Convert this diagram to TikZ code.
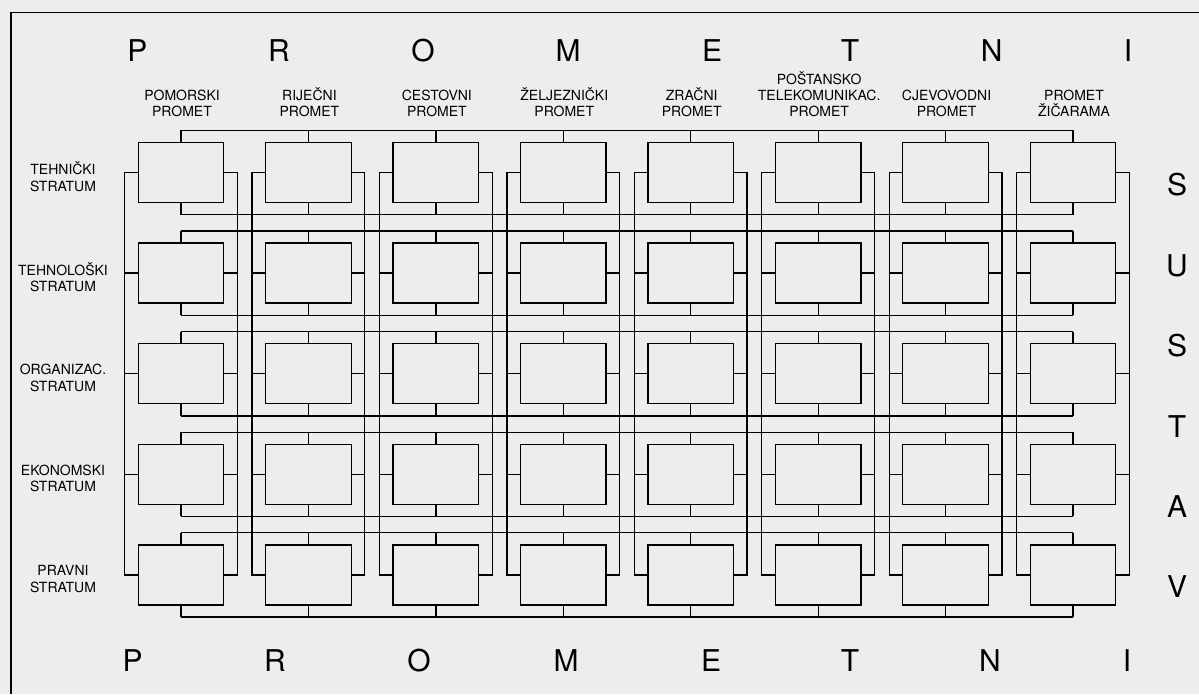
\documentclass[tikz,border=0pt]{standalone}
\usepackage{fontspec}
\setmainfont{TeX Gyre Heros}
\begin{document}
\begin{tikzpicture}[x=1pt,y=-1pt,line width=1.3pt,
    stratbox/.style={draw,minimum width=85.5pt,minimum height=60pt,inner sep=0pt},
    hdr/.style={font=\fontsize{14}{16}\selectfont,align=center,anchor=south,inner sep=0pt},
    lbl/.style={font=\fontsize{14}{16.5}\selectfont,align=center,inner sep=0pt},
    big/.style={font=\fontsize{30}{36}\selectfont,inner sep=0pt}]
    \fill[black!7] (0,0) rectangle (1199,694);
    \useasboundingbox (0,0) rectangle (1199,694);
    % frame
    \draw (11,694) -- (11,12.5) -- (1199,12.5);
    % big letters
    \foreach \ch/\xt/\xb [count=\i] in {P/137.5/132.7,R/279/275,O/423/419,M/568/566,E/712/711,T/850/850,N/991.7/990,I/1128/1127} {
        \node[big] (top-\i) at (\xt,51) {\ch};
        \node[big] (bot-\i) at (\xb,661) {\ch};
    }
    \foreach \ch [count=\i] in {S,U,S,T,A,V}
        \node[big] (side-\i) at (1177,{185+80.4*(\i-1)}) {\ch};
    % boxes
    \foreach \c in {1,...,8}
        \foreach \r in {1,...,5}
            \node[stratbox] (b-\r-\c) at ({181+127.43*(\c-1)},{172.5+100.6*(\r-1)}) {};
    % column headers
    \foreach \txt [count=\c] in {{POMORSKI\\PROMET},{RIJEČNI\\PROMET},{CESTOVNI\\PROMET},{ŽELJEZNIČKI\\PROMET},{ZRAČNI\\PROMET},{POŠTANSKO\\TELEKOMUNIKAC.\\PROMET},{CJEVOVODNI\\PROMET},{PROMET\\ŽIČARAMA}}
        \node[hdr] (h-\c) at ({182+127.43*(\c-1)},117) {\txt};
    % row labels
    \foreach \txt [count=\r] in {{TEHNIČKI\\STRATUM},{TEHNOLOŠKI\\STRATUM},{ORGANIZAC.\\STRATUM},{EKONOMSKI\\STRATUM},{PRAVNI\\STRATUM}}
        \node[lbl] (s-\r) at (63,{176.5+100.6*(\r-1)}) {\txt};
    % buses above and below each row
    \foreach \r in {1,...,5} {
        \path (b-\r-1.north) ++(0,-11.5) coordinate (tl-\r);
        \path (b-\r-8.north) ++(0,-11.5) coordinate (tr-\r);
        \path (b-\r-1.south) ++(0,11.5) coordinate (bl-\r);
        \path (b-\r-8.south) ++(0,11.5) coordinate (br-\r);
        \draw (tl-\r) -- (tr-\r);
        \draw (bl-\r) -- (br-\r);
        \foreach \c in {1,...,8} {
            \draw (b-\r-\c.north) -- (b-\r-\c.north |- tl-\r);
            \draw (b-\r-\c.south) -- (b-\r-\c.south |- bl-\r);
        }
    }
    % side lines of each column
    \foreach \c in {1,...,8} {
        \draw (b-1-\c.west) -- ++(-13,0) |- (b-5-\c.west);
        \draw (b-1-\c.east) -- ++(13,0) |- (b-5-\c.east);
        \foreach \r in {2,3,4} {
            \draw (b-\r-\c.west) -- ++(-13,0);
            \draw (b-\r-\c.east) -- ++(13,0);
        }
    }
\end{tikzpicture}
\end{document}
